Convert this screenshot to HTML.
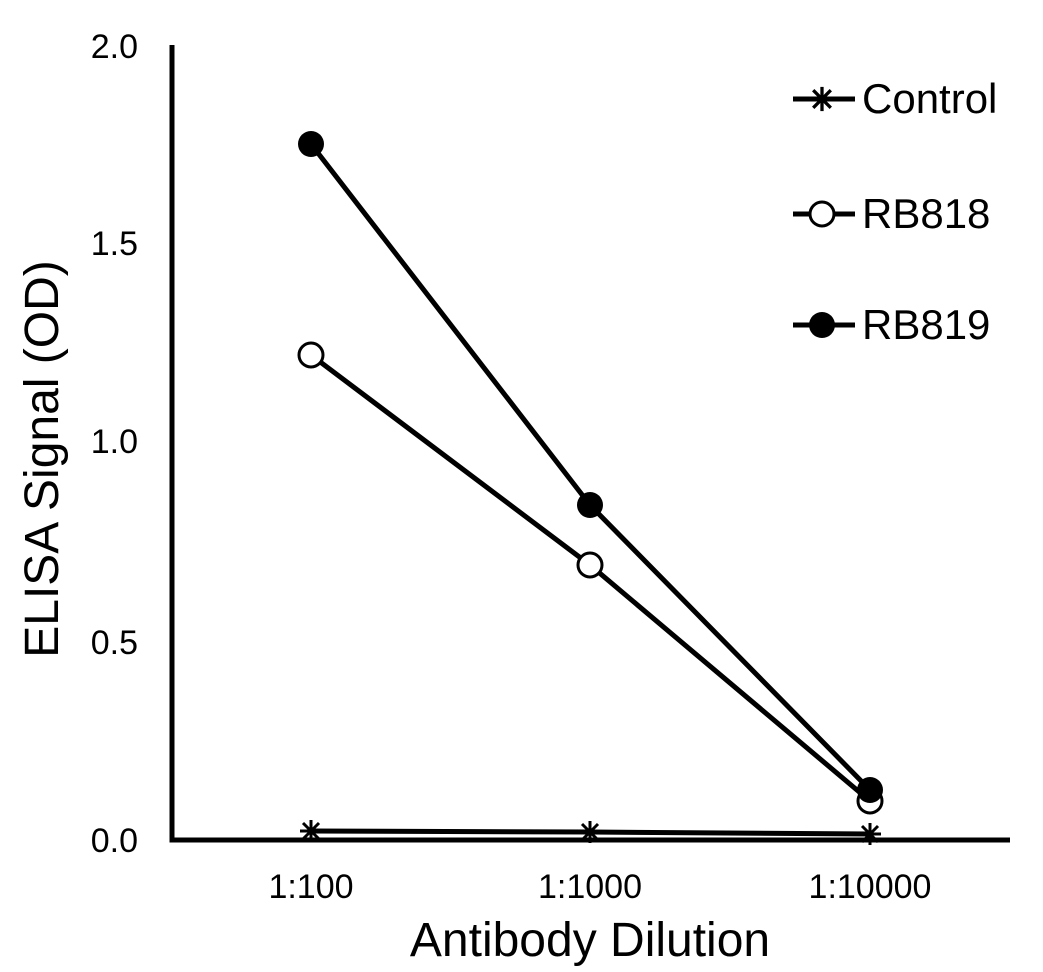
<!DOCTYPE html>
<html><head><meta charset="utf-8"><style>body{margin:0;background:#fff}svg{display:block}text{font-family:"Liberation Sans",Arial,sans-serif;fill:#000}</style></head>
<body>
<svg width="1043" height="972" viewBox="0 0 1043 972" xmlns="http://www.w3.org/2000/svg">
<defs>
<g id="star" stroke="#000" stroke-width="3"><line x1="-11" y1="0" x2="11" y2="0"/><line x1="0" y1="-11" x2="0" y2="11"/><line x1="-8" y1="-8" x2="8" y2="8"/><line x1="-8" y1="8" x2="8" y2="-8"/></g>
</defs>
<g stroke="#000" stroke-width="5" fill="none">
<polyline points="172,45 172,840 1010,840"/>
<polyline points="311,831 590,832 870,834"/>
<polyline points="311,355 590,565 870,801"/>
<polyline points="311,144 590,505 870,790"/>
</g>
<use href="#star" x="311" y="831"/><use href="#star" x="590" y="832"/><use href="#star" x="870" y="834"/>
<g stroke="#000" stroke-width="3" fill="#fff">
<circle cx="311" cy="355" r="12"/><circle cx="590" cy="565" r="12"/><circle cx="870" cy="801" r="12"/>
</g>
<g fill="#000">
<circle cx="311" cy="144" r="13"/><circle cx="590" cy="505" r="13"/><circle cx="870" cy="790" r="13"/>
</g>
<g font-size="34" text-anchor="end">
<text x="138" y="58">2.0</text><text x="138" y="255">1.5</text><text x="138" y="453">1.0</text><text x="138" y="654">0.5</text><text x="138" y="852">0.0</text>
</g>
<g font-size="34" text-anchor="middle">
<text x="311" y="898">1:100</text><text x="590" y="898">1:1000</text><text x="870" y="898">1:10000</text>
</g>
<text x="590" y="956" font-size="48" text-anchor="middle">Antibody Dilution</text>
<text transform="translate(58,459) rotate(-90)" font-size="48" text-anchor="middle">ELISA Signal (OD)</text>
<g stroke="#000" stroke-width="5">
<line x1="793" y1="99" x2="855" y2="99"/><line x1="793" y1="214" x2="855" y2="214"/><line x1="793" y1="325" x2="855" y2="325"/>
</g>
<use href="#star" x="822" y="99" transform="translate(822,99) scale(1.1) translate(-822,-99)"/>
<circle cx="822" cy="214" r="12" fill="#fff" stroke="#000" stroke-width="3"/>
<circle cx="822" cy="325" r="13" fill="#000"/>
<g font-size="42">
<text x="862" y="113">Control</text><text x="862" y="228">RB818</text><text x="862" y="339">RB819</text>
</g>
</svg>
</body></html>
